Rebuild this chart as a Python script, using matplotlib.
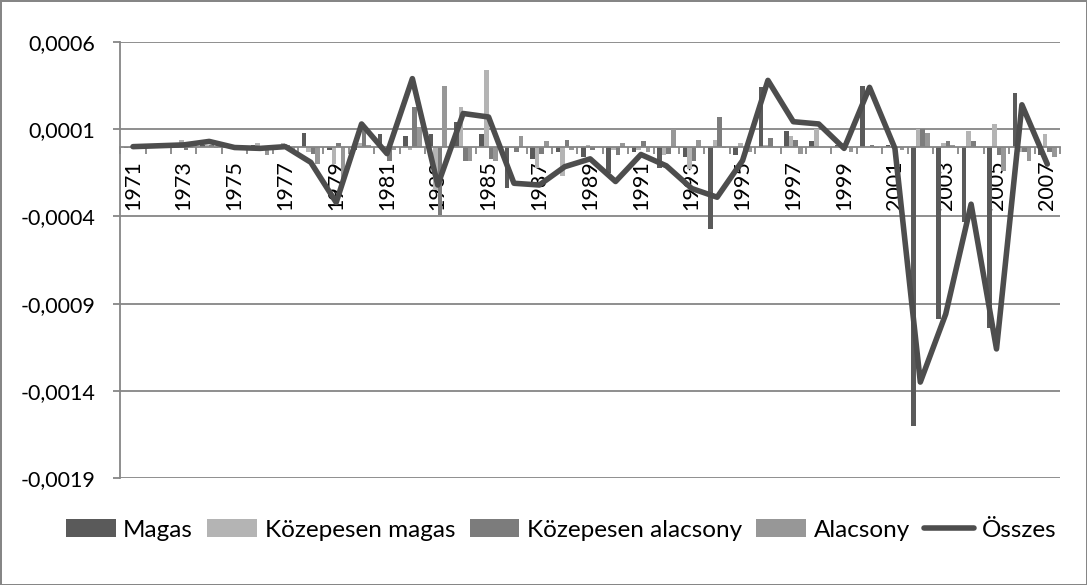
import matplotlib
matplotlib.use("Agg")
import matplotlib.pyplot as plt
from matplotlib.ticker import FixedLocator, FuncFormatter
import numpy as np

years = list(range(1971, 2008))

magas = [-0.00001, 0.00001, -0.00001, 0.00001, -0.00001, 0.00001, -0.00001, 0.00008, -0.00002, -0.00002,
         0.00007, 0.00006, 0.00007, 0.00014, 0.00007, -0.00024, -0.00007, -0.00003, -0.00006, -0.00015,
         -0.00003, -0.00012, -0.00006, -0.00047, -0.00005, 0.00034, 0.00009, 0.00003, 0.00001, 0.00035,
         0.00001, -0.0016, -0.00099, -0.00043, -0.00104, 0.00031, -0.00005]
kozepesen_magas = [-0.00001, -0.00001, 0.00004, 0.00001, 0.00001, 0.00002, 0.00002, -0.00003, -0.0001, 0.00002,
                   -0.00001, -0.00002, -0.00025, 0.00023, 0.00044, -0.00001, -0.00012, -0.00017, 0.00001, -0.00002,
                   -0.00002, -0.00005, -0.00013, 0.00004, 0.00002, 0.00001, 0.00006, 0.0001, 0.00002, 0.0,
                   -0.00001, 0.0001, 0.00002, 0.00009, 0.00013, -0.00003, 0.00007]
kozepesen_alacsony = [0.00001, 0.0, -0.00002, 0.00001, -0.00002, -0.00001, 0.00001, -0.00004, 0.00002, 0.00012,
                      -0.00008, 0.00023, -0.00039, -0.00008, -0.00007, -0.00003, -0.00004, 0.00004, -0.00002, -0.00005,
                      0.00003, -0.00004, -0.00008, 0.00017, -0.00004, 0.00005, 0.00004, 0.0, -0.00001, 0.00001,
                      -0.00001, 0.0001, 0.00003, 0.00003, -0.00005, -0.00003, -0.00003]
alacsony = [-0.00001, 0.00001, -0.00001, -0.00001, -0.00001, -0.00005, -0.00002, -0.0001, -0.00021, 0.00001,
            -0.00002, 0.00011, 0.00035, -0.00008, -0.00008, 0.00006, 0.00003, -0.00002, 0.0, 0.00002,
            -0.00003, 0.0001, 0.00004, -0.00001, -0.00003, 0.0, -0.00004, 0.0, -0.00003, -0.00001,
            -0.00002, 0.00008, 0.00001, 0.0, -0.00014, -0.00008, -0.00006]
osszes = [0.0, 0.000005, 0.00001, 0.00003, -0.000005, -0.00001, 0.0, -0.00009, -0.00032, 0.00013,
          -0.00004, 0.00039, -0.00022, 0.00019, 0.00017, -0.00021, -0.00022, -0.000115, -0.00007, -0.0002,
          -0.000045, -0.00011, -0.00024, -0.00029, -0.00008, 0.00038, 0.000143, 0.00013, -0.00001, 0.00034,
          -0.00001, -0.00135, -0.00096, -0.00033, -0.00116, 0.00024, -0.0001]

series_names = ["Magas", "Közepesen magas", "Közepesen alacsony", "Alacsony"]
line_name = "Összes"
y_ticks = [0.0006, 0.0001, -0.0004, -0.0009, -0.0014, -0.0019]

colors = ["#5a5a5a", "#b4b4b4", "#7c7c7c", "#979797"]
line_color = "#4d4d4d"
grid_color = "#868686"
FONT = "Lato"
FS = 15.5
LFS = 17.5

fig = plt.figure(figsize=(10.87, 5.85), dpi=100)
fig.patch.set_facecolor("white")
fig.patch.set_edgecolor(grid_color)
fig.patch.set_linewidth(1.0)

ax = fig.add_axes([120.3 / 1087, 1 - 478 / 585, (1060 - 120.3) / 1087, (478 - 42) / 585])

x = np.arange(len(years))
bw = 1.0 / 5.5
offsets = [-1.5, -0.5, 0.5, 1.5]
handles = []
for vals, name, c, o in zip([magas, kozepesen_magas, kozepesen_alacsony, alacsony], series_names, colors, offsets):
    h = ax.bar(x + o * bw, vals, width=bw, color=c, label=name, zorder=2, linewidth=0)
    handles.append(h)

ln, = ax.plot(x, osszes, color=line_color, linewidth=4.0, label=line_name, zorder=4,
              solid_joinstyle="round", solid_capstyle="round")
handles.append(ln)

ax.set_xlim(-0.5, len(years) - 0.5)
ax.set_ylim(-0.0019, 0.0006)
ax.set_yticks(y_ticks)
ax.yaxis.set_major_formatter(FuncFormatter(lambda v, p: ("%.4f" % v).replace(".", ",")))
ax.yaxis.grid(True, color=grid_color, linewidth=1.3, zorder=0)
ax.set_axisbelow(True)

ax.spines["top"].set_visible(False)
ax.spines["right"].set_visible(False)
ax.spines["left"].set_color(grid_color)
ax.spines["left"].set_linewidth(1.3)
ax.spines["bottom"].set_position(("data", 0))
ax.spines["bottom"].set_color(grid_color)
ax.spines["bottom"].set_linewidth(1.3)
ax.spines["bottom"].set_zorder(3)

ax.tick_params(axis="y", direction="out", length=5, width=1.3, color=grid_color, pad=13,
               labelsize=FS)
label_idx = [i for i in range(len(years)) if (years[i] - 1971) % 2 == 0]
ax.set_xticks(label_idx)
ax.set_xticklabels([str(years[i]) for i in label_idx], rotation=90, fontsize=FS, family=FONT)
ax.xaxis.set_minor_locator(FixedLocator(np.arange(-0.5, len(years), 1.0)))
ax.tick_params(axis="x", which="major", length=0, pad=10)
ax.tick_params(axis="x", which="minor", direction="out", length=5, width=1.3, color=grid_color)
for t in ax.get_yticklabels():
    t.set_family(FONT)
    t.set_fontsize(FS)

leg = fig.legend(handles=handles, labels=series_names + [line_name], loc="center",
                 bbox_to_anchor=(561 / 1087, 1 - 530 / 585), ncol=5, frameon=False,
                 prop={"family": FONT, "size": LFS}, handlelength=2.05, handleheight=0.7,
                 handletextpad=0.3, columnspacing=0.6, borderaxespad=0)

fig.savefig("out.png", dpi=100, facecolor="white", edgecolor=grid_color)
